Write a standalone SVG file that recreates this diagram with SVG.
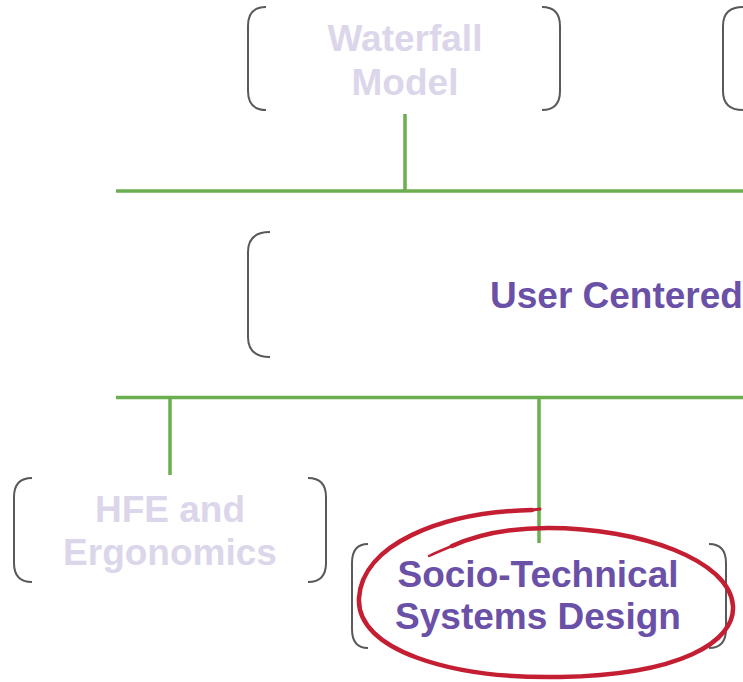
<svg xmlns="http://www.w3.org/2000/svg" width="743" height="682" viewBox="0 0 743 682">
  <style>
    .bracket { fill: none; stroke: #595959; stroke-width: 2; }
    .link { fill: none; stroke: #6AAE4F; stroke-width: 3.5; stroke-linecap: butt; }
    .label { font-family: "Liberation Sans", Arial, sans-serif; font-size: 37px; font-weight: bold; text-anchor: middle; }
    .faded { fill: #DCD6EB; }
    .active { fill: #6A50A7; }
    .mark { fill: none; stroke: #C41E32; stroke-linecap: round; stroke-linejoin: round; }
  </style>
  <rect width="743" height="682" fill="#FFFFFF"/>

  <!-- connectors -->
  <g id="connectors">
    <line class="link" x1="116" y1="191" x2="743" y2="191"/>
    <line class="link" x1="405" y1="114" x2="405" y2="191"/>
    <line class="link" x1="116" y1="397.5" x2="743" y2="397.5"/>
    <line class="link" x1="170" y1="397.5" x2="170" y2="475"/>
    <line class="link" x1="539" y1="397.5" x2="539" y2="543"/>
  </g>

  <!-- Waterfall Model -->
  <g id="node-waterfall">
    <path class="bracket" d="M266 7 Q248 7 248 26 V91 Q248 110 266 110"/>
    <path class="bracket" d="M542 7 Q560 7 560 26 V91 Q560 110 542 110"/>
    <text class="label faded" x="405" y="51">Waterfall</text>
    <text class="label faded" x="405" y="95">Model</text>
  </g>

  <!-- partially visible node on the right -->
  <g id="node-right">
    <path class="bracket" d="M743 7 Q723 7 723 26 V91 Q723 110 743 110"/>
  </g>

  <!-- User Centered -->
  <g id="node-user-centered">
    <path class="bracket" d="M270 232 Q248 232 248 252 V337 Q248 357 270 357"/>
    <text class="label active" x="490" y="308" style="text-anchor:start">User Centered</text>
  </g>

  <!-- HFE and Ergonomics -->
  <g id="node-hfe">
    <path class="bracket" d="M32 478 Q14 478 14 497 V563 Q14 582 32 582"/>
    <path class="bracket" d="M308 478 Q326 478 326 497 V563 Q326 582 308 582"/>
    <text class="label faded" x="170" y="522">HFE and</text>
    <text class="label faded" x="170" y="565">Ergonomics</text>
  </g>

  <!-- Socio-Technical Systems Design -->
  <g id="node-socio">
    <path class="bracket" d="M368 544 Q352 544 352 563 V629 Q352 648 368 648"/>
    <path class="bracket" d="M709 544 Q726 544 726 563 V629 Q726 648 709 648"/>
    <text class="label active" x="538" y="587">Socio-Technical</text>
    <text class="label active" x="538" y="629">Systems Design</text>
  </g>

  <!-- hand-drawn highlight loop -->
  <g id="highlight">
    <path class="mark" stroke-width="4.5" d="M532 510 C440 512 362 545 359 598 C356 650 450 679 560 677 C680 675 735 642 733 606 C730 560 640 528 548 528 C500 528 470 538 452 546"/>
    <path class="mark" stroke-width="3" d="M540 509 L532 510"/>
    <path class="mark" stroke-width="2.5" d="M452 546 C440 551 433 554 429 556"/>
  </g>
</svg>
